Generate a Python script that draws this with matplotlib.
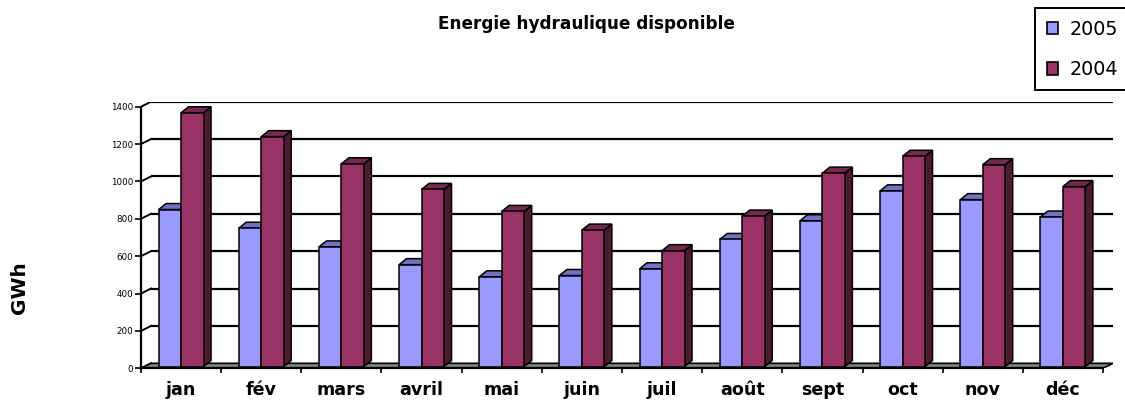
import matplotlib
matplotlib.use("Agg")
import matplotlib.pyplot as plt
from matplotlib.patches import Polygon, Patch
import numpy as np

# ---- data ----
months = ["jan", "fév", "mars", "avril", "mai", "juin", "juil", "août", "sept", "oct", "nov", "déc"]
v2005 = [840, 740, 640, 545, 480, 487, 523, 680, 780, 940, 893, 800]
v2004 = [1358, 1230, 1085, 948, 830, 730, 620, 805, 1035, 1125, 1080, 963]
series_labels = ["2005", "2004"]
yticks = [0, 200, 400, 600, 800, 1000, 1200, 1400]
title = "Energie hydraulique disponible"
ylabel = "GWh"

# ---- style ----
c05_front, c05_top = "#9999FF", "#7272C4"
c04_front, c04_top, c04_side = "#993366", "#752850", "#4D1A33"
floor_col = "#808080"

W, H = 1125, 401
fig = plt.figure(figsize=(W / 100, H / 100), dpi=100)

# axes geometry in pixels
left_px, right_px = 141, 1113
zero_px, top_px = 368.3, 101.7
ax = fig.add_axes([left_px / W, (H - zero_px) / H, (right_px - left_px) / W, (zero_px - top_px) / H])

n = len(months)
cat_px = (1103 - 141) / n          # pixels per category
ypx = (368.3 - 106.7) / 1400.0     # pixels per data unit
DX = 10 / cat_px                   # wall depth (x, category units)
DY = 5 / ypx                       # wall depth (y, data units)
bx, by = 7.5 / cat_px, 6 / ypx     # bar depth
b0 = 1.8 / ypx                     # bar front face base lift
w = 0.28

ax.set_xlim(-0.5, n - 0.5 + DX)
ax.set_ylim(0, 1400 + DY)

# floor
ax.add_patch(Polygon([(-0.5, 0), (n - 0.5, 0), (n - 0.5 + DX, DY), (-0.5 + DX, DY)],
                     closed=True, facecolor=floor_col, edgecolor="black", lw=1.2, zorder=1))

# back wall gridlines + left wall diagonals
for v in yticks:
    if v > 0:
        ax.plot([-0.5 + DX, n - 0.5 + DX], [v + DY, v + DY], color="black", lw=1.6, zorder=0.5,
                solid_capstyle="butt")
    ax.plot([-0.5, -0.5 + DX], [v, v + DY], color="black", lw=1.4, zorder=0.6)

x = np.arange(n)
lw_bar = 1.1

def draw_bars(xs, vals, front, top, side, z):
    ax.bar(xs, vals, width=w, bottom=b0, align="edge", color=front, edgecolor="black",
           linewidth=lw_bar, zorder=z + 0.2)
    for x0, v in zip(xs, vals):
        t = b0 + v
        x1 = x0 + w
        ax.add_patch(Polygon([(x1, b0), (x1, t), (x1 + bx, t + by), (x1 + bx, b0 + by)],
                             closed=True, facecolor=side, edgecolor="black", lw=lw_bar, zorder=z))
        ax.add_patch(Polygon([(x0, t), (x1, t), (x1 + bx, t + by), (x0 + bx, t + by)],
                             closed=True, facecolor=top, edgecolor="black", lw=lw_bar, zorder=z + 0.1))

draw_bars(x - w, v2005, c05_front, c05_top, c05_top, 2)
draw_bars(x, v2004, c04_front, c04_top, c04_side, 3)

# spines and ticks
for s in ["top", "right"]:
    ax.spines[s].set_visible(False)
ax.spines["left"].set_bounds(0, 1400)
ax.spines["bottom"].set_bounds(-0.5, n - 0.5)
ax.spines["left"].set_linewidth(1.6)
ax.spines["bottom"].set_linewidth(1.6)
ax.spines["left"].set_zorder(5)
ax.spines["bottom"].set_zorder(5)

ax.set_yticks(yticks)
ax.set_yticklabels([str(v) for v in yticks], fontsize=6.3)
ax.tick_params(axis="y", direction="out", length=4, width=1.2, pad=1.5)

ax.set_xticks(x)
ax.set_xticklabels(months, fontsize=12.6, fontweight="bold")
ax.set_xticks(np.arange(-0.5, n, 1.0), minor=True)
ax.tick_params(axis="x", which="major", length=0, pad=9)
ax.tick_params(axis="x", which="minor", length=3.5, width=1.2, direction="out")
ax.patch.set_visible(False)

# title and y label
fig.text(586.5 / W, 1 - 29 / H, title, ha="center", va="baseline", fontsize=12.2, fontweight="bold")
fig.text(19 / W, 1 - 288 / H, ylabel, ha="center", va="center", rotation=90, fontsize=14.4,
         fontweight="bold")

# legend
handles = [Patch(facecolor=c05_front, edgecolor="black", lw=1.2),
           Patch(facecolor=c04_front, edgecolor="black", lw=1.2)]
leg = fig.legend(handles, series_labels, loc="upper left",
                 bbox_to_anchor=(1035 / W, 1 - 8.3 / H), bbox_transform=fig.transFigure,
                 fontsize=13.8, frameon=True, fancybox=False, framealpha=1,
                 edgecolor="black", borderaxespad=0, borderpad=0.6,
                 handlelength=0.6, handleheight=0.65, handletextpad=0.6, labelspacing=1.1)
leg.get_frame().set_linewidth(1.4)

fig.savefig("out.png", dpi=100)
